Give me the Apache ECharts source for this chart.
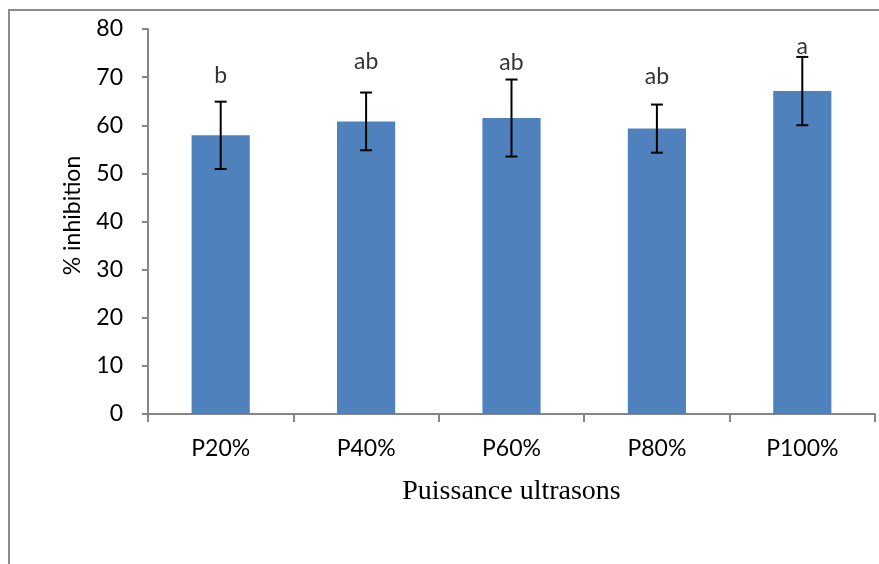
<!DOCTYPE html>
<html>
<head>
<meta charset="utf-8">
<script src="https://cdn.jsdelivr.net/npm/echarts@6/dist/echarts.min.js"></script>
<style>
  html, body { margin: 0; padding: 0; background: #fff; }
  #chart { width: 879px; height: 564px; }
</style>
</head>
<body>
<div id="chart"></div>
<script>
// Inhibition (%) by ultrasound power level
const categories = ['P20%', 'P40%', 'P60%', 'P80%', 'P100%'];
const inhibition = [57.9, 60.8, 61.5, 59.3, 67.1];
const stdDev = [7.0, 6.0, 8.0, 5.0, 7.1];
const groupLetters = ['b', 'ab', 'ab', 'ab', 'a'];
const letterLevels = [70.3, 73.2, 73.0, 70.1, 76.3];
const yTicks = [0, 10, 20, 30, 40, 50, 60, 70, 80];

const sansFont = 'Lato';
const axisGray = '#868686';

const chart = echarts.init(document.getElementById('chart'), null, { renderer: 'canvas' });

chart.setOption({
  animation: false,
  backgroundColor: '#ffffff',
  graphic: [{
    type: 'polyline',
    shape: { points: [[9, 564], [9, 10], [879, 10]] },
    style: { stroke: '#8c8c8c', lineWidth: 2, fill: null },
    silent: true
  }],
  grid: { left: 148, right: 4, top: 29, bottom: 150 },
  xAxis: {
    type: 'category',
    data: categories,
    name: 'Puissance ultrasons',
    nameLocation: 'middle',
    nameGap: 64,
    nameTextStyle: { fontFamily: 'Liberation Serif', fontSize: 28, color: '#000' },
    axisLine: { lineStyle: { color: axisGray, width: 2 } },
    axisTick: { show: true, length: 8, lineStyle: { color: axisGray, width: 2 } },
    axisLabel: { fontFamily: sansFont, fontSize: 23, color: '#000', margin: 23 },
    splitLine: { show: false }
  },
  yAxis: {
    type: 'value',
    min: yTicks[0],
    max: yTicks[yTicks.length - 1],
    interval: 10,
    name: '% inhibition',
    nameLocation: 'middle',
    nameGap: 64,
    nameRotate: 90,
    nameTextStyle: { fontFamily: sansFont, fontSize: 23, color: '#000', padding: [0, 0, 0, 12] },
    axisLine: { show: true, lineStyle: { color: axisGray, width: 2 } },
    axisTick: { show: true, length: 6, lineStyle: { color: axisGray, width: 2 } },
    axisLabel: { fontFamily: sansFont, fontSize: 23, color: '#000', margin: 25 },
    splitLine: { show: false }
  },
  series: [
    {
      type: 'bar',
      data: inhibition,
      barWidth: '40%',
      itemStyle: { color: '#4F81BD' },
      silent: true
    },
    {
      type: 'custom',
      data: inhibition.map((v, i) => [i, v - stdDev[i], v + stdDev[i]]),
      z: 10,
      silent: true,
      renderItem: function (params, api) {
        const lo = api.coord([api.value(0), api.value(1)]);
        const hi = api.coord([api.value(0), api.value(2)]);
        const half = 6;
        const style = { stroke: '#000', lineWidth: 2 };
        return {
          type: 'group',
          children: [
            { type: 'line', shape: { x1: hi[0], y1: hi[1], x2: lo[0], y2: lo[1] }, style },
            { type: 'line', shape: { x1: hi[0] - half, y1: hi[1], x2: hi[0] + half, y2: hi[1] }, style },
            { type: 'line', shape: { x1: lo[0] - half, y1: lo[1], x2: lo[0] + half, y2: lo[1] }, style }
          ]
        };
      }
    },
    {
      type: 'scatter',
      data: letterLevels.map((v, i) => [i, v, groupLetters[i]]),
      symbolSize: 0,
      silent: true,
      label: {
        show: true,
        position: 'inside',
        formatter: p => p.data[2],
        fontFamily: sansFont,
        fontSize: 23,
        color: '#000'
      }
    }
  ]
});
</script>
</body>
</html>
